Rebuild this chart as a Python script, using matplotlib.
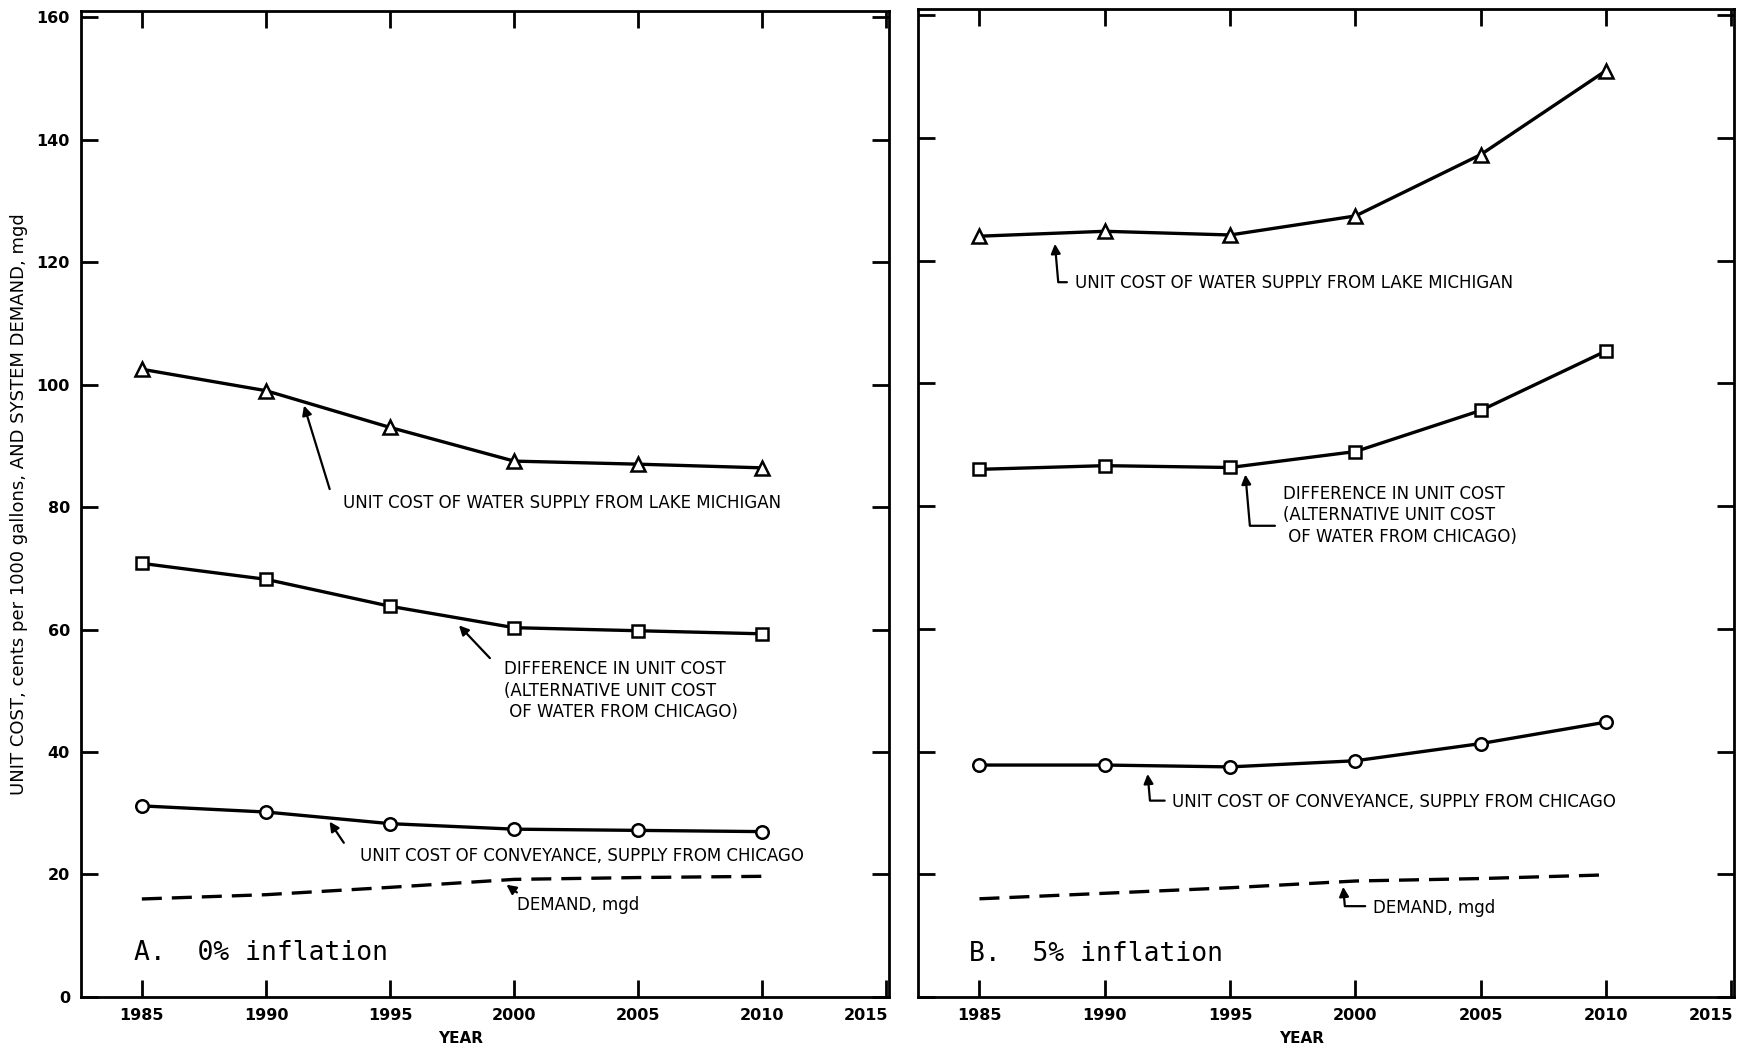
import numpy as np
import matplotlib.pyplot as plt
from matplotlib.transforms import ScaledTranslation

years = [1985, 1990, 1995, 2000, 2005, 2010]

# panel A, 0% inflation
a_lake = [102.5, 99.0, 93.0, 87.5, 87.0, 86.4]
a_diff = [70.8, 68.2, 63.8, 60.3, 59.8, 59.3]
a_conv = [31.2, 30.2, 28.3, 27.4, 27.2, 27.0]
a_demand = [16.0, 16.7, 17.9, 19.2, 19.5, 19.7]

# panel B, 5% inflation
b_lake = [124.0, 124.8, 124.2, 127.3, 137.3, 151.0]
b_diff = [86.0, 86.6, 86.3, 88.9, 95.6, 105.3]
b_conv = [37.8, 37.8, 37.5, 38.5, 41.3, 44.8]
b_demand = [16.0, 16.9, 17.8, 18.9, 19.3, 19.9]

xticks = [1985, 1990, 1995, 2000, 2005, 2010, 2015]
yticks = [0, 20, 40, 60, 80, 100, 120, 140, 160]

lab_lake = 'UNIT COST OF WATER SUPPLY FROM LAKE MICHIGAN'
lab_diff = 'DIFFERENCE IN UNIT COST\n(ALTERNATIVE UNIT COST\n OF WATER FROM CHICAGO)'
lab_conv = 'UNIT COST OF CONVEYANCE, SUPPLY FROM CHICAGO'
lab_dem = 'DEMAND, mgd'

fig = plt.figure(figsize=(17.43, 10.57), dpi=100)
axA = fig.add_axes([0.0465, 0.0568, 0.4635, 0.9328])
axB = fig.add_axes([0.5267, 0.0568, 0.4681, 0.9345])

tfont = dict(fontsize=12, family='DejaVu Sans')


def draw(ax, lake, diff, conv, dem):
    kw = dict(color='black', lw=2.4, mfc='white', mec='black', mew=1.8, ms=10)
    ax.plot(years, lake, marker='^', **kw)
    ax.plot(years, diff, marker='s', **dict(kw, ms=9))
    ax.plot(years, conv, marker='o', **dict(kw, ms=9))
    ax.plot(years, dem, color='black', lw=2.4, dashes=(6, 3))
    ax.set_xlim(1982.55, 2015.1)
    ax.set_ylim(0, 161)
    ax.set_xticks(xticks)
    ax.set_yticks(yticks)
    ax.tick_params(direction='in', length=12, width=2, top=True, right=True,
                   labelsize=11.5, pad=8)
    for lab in ax.get_xticklabels() + ax.get_yticklabels():
        lab.set_fontweight('bold')
    # last year label sits inside the frame edge
    last = ax.get_xticklabels()[-1]
    last.set_ha('right')
    last.set_transform(last.get_transform() +
                       ScaledTranslation(0.02, 0, fig.dpi_scale_trans))
    for s in ax.spines.values():
        s.set_linewidth(2)
    ax.set_xlabel('YEAR', x=0.47, fontsize=11, fontweight='bold', labelpad=6)


draw(axA, a_lake, a_diff, a_conv, a_demand)
draw(axB, b_lake, b_diff, b_conv, b_demand)
axB.tick_params(labelleft=False)
axA.set_ylabel('UNIT COST, cents per 1000 gallons, AND SYSTEM DEMAND, mgd',
               fontsize=13, labelpad=6)

# panel A labels, straight arrows
arr = dict(arrowstyle='-|>', color='black', lw=1.6, mutation_scale=14)
axA.text(1993.1, 80.6, lab_lake, va='center', **tfont)
axA.annotate('', xy=(1991.5, 97.0), xytext=(1992.6, 82.5), arrowprops=arr)
axA.text(1999.6, 50.0, lab_diff, va='center', linespacing=1.25, **tfont)
axA.annotate('', xy=(1997.7, 61.0), xytext=(1999.1, 55.0), arrowprops=arr)
axA.text(1993.8, 23.0, lab_conv, va='center', **tfont)
axA.annotate('', xy=(1992.5, 29.0), xytext=(1993.2, 24.8), arrowprops=arr)
axA.text(2000.1, 15.0, lab_dem, va='center', **tfont)
axA.annotate('', xy=(1999.6, 18.6), xytext=(2000.2, 16.8), arrowprops=arr)
axA.text(1984.7, 7.2, 'A.  0% inflation', fontsize=19, family='DejaVu Sans Mono',
         va='center')

# panel B labels, bent arrows
barr = dict(arrowstyle='-|>', color='black', lw=1.6, mutation_scale=14,
            connectionstyle='angle,angleA=180,angleB=95,rad=0')
axB.text(1988.8, 116.3, lab_lake, va='center', **tfont)
axB.annotate('', xy=(1988.0, 123.2), xytext=(1988.6, 116.5), arrowprops=barr)
axB.text(1997.1, 78.5, lab_diff, va='center', linespacing=1.25, **tfont)
axB.annotate('', xy=(1995.6, 85.6), xytext=(1996.9, 76.8), arrowprops=barr)
axB.text(1992.7, 31.8, lab_conv, va='center', **tfont)
axB.annotate('', xy=(1991.7, 36.8), xytext=(1992.5, 32.0), arrowprops=barr)
axB.text(2000.7, 14.5, lab_dem, va='center', **tfont)
axB.annotate('', xy=(1999.5, 18.4), xytext=(2000.5, 14.8), arrowprops=barr)
axB.text(1984.6, 7.0, 'B.  5% inflation', fontsize=19, family='DejaVu Sans Mono',
         va='center')

fig.savefig('out.png', dpi=100)
